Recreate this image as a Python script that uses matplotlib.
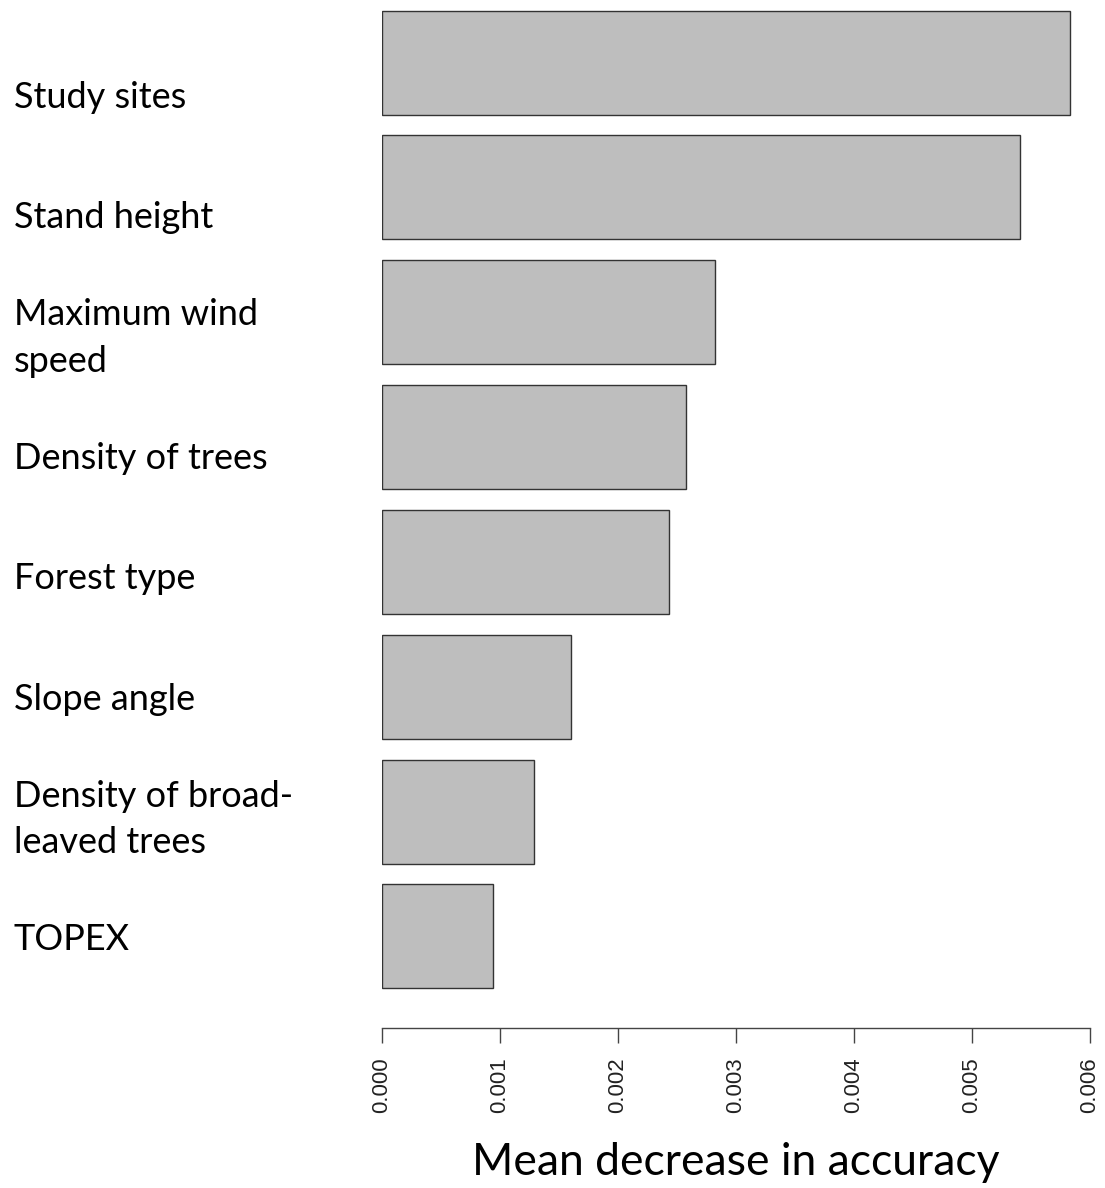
#!/usr/bin/env python3
"""Variable importance bar chart (mean decrease in accuracy)."""

import matplotlib

matplotlib.use("Agg")
import matplotlib.pyplot as plt

variables = [
    "Study sites",
    "Stand height",
    "Maximum wind\nspeed",
    "Density of trees",
    "Forest type",
    "Slope angle",
    "Density of broad-\nleaved trees",
    "TOPEX",
]
mean_decrease = [0.00583, 0.00541, 0.00282, 0.00258, 0.00243, 0.00160, 0.00129, 0.00094]
tick_values = [0.000, 0.001, 0.002, 0.003, 0.004, 0.005, 0.006]
tick_labels = ["0.000", "0.001", "0.002", "0.003", "0.004", "0.005", "0.006"]

W, H = 1105, 1188
fig = plt.figure(figsize=(W / 100, H / 100), dpi=100)

# axes spans the 0..0.006 axis line horizontally, top of figure to axis line vertically
ax = fig.add_axes([382 / W, 1 - 1028 / H, (1090 - 382) / W, 1028 / H])

pos = list(range(len(variables)))
ax.barh(pos, mean_decrease, height=0.833, color="#bebebe",
        edgecolor="#333333", linewidth=1.0)

ax.set_xlim(0, 0.006)
ax.set_ylim(7.733, -0.5006)
for side in ("top", "right", "left"):
    ax.spines[side].set_visible(False)
ax.spines["bottom"].set_color("#444444")
ax.spines["bottom"].set_linewidth(1.0)
ax.set_yticks([])
ax.set_xticks(tick_values)
ax.set_xticklabels(tick_labels, rotation=90, fontsize=16,
                   family="Liberation Sans", color="#222222", va="top")
ax.tick_params(axis="x", length=10.8, width=1.0, color="#444444", pad=10)

ax.set_xlabel("Mean decrease in accuracy", family="Lato", fontsize=32,
              color="black", labelpad=21)

# category labels were set in a separate text column, with slightly tighter spacing
label_top, label_step = 97, 120.4
for i, name in enumerate(variables):
    y_px = label_top + label_step * i
    fig.text(14 / W, 1 - y_px / H, name, family="Lato", fontsize=26,
             ha="left", va="center", linespacing=1.5, color="black")

fig.savefig("out.png", dpi=100)
